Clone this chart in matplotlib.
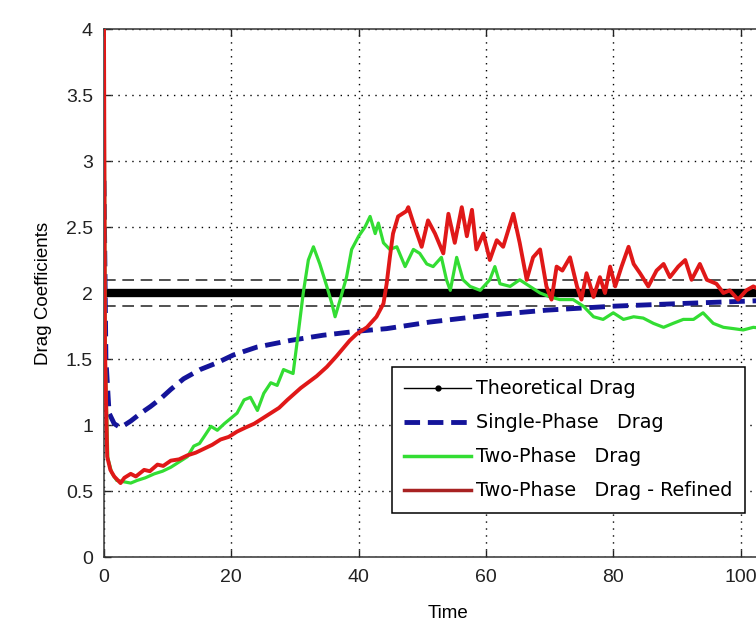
import matplotlib
matplotlib.use("Agg")
import matplotlib.pyplot as plt
from matplotlib.lines import Line2D

plt.rcParams['font.family'] = ['Liberation Sans', 'DejaVu Sans']

# ---- data ----
theory_t = [0, 108]
theory_v = [2.0, 2.0]
band_upper = [2.1, 2.1]
band_lower = [1.9, 1.9]

blue_t = [0, 0.3, 0.8, 1.6, 2.6, 4.2, 5.8, 7.3, 8.9, 10.5, 12.5, 15.1, 17.7, 20.3,
          24.0, 29.2, 34.4, 39.7, 44.4, 51.2, 60.1, 69.5, 80.0, 90.5, 102.0, 108]
blue_v = [2.85, 1.5, 1.09, 1.01, 0.98, 1.03, 1.09, 1.14, 1.20, 1.27, 1.35, 1.42, 1.47, 1.53,
          1.59, 1.64, 1.68, 1.71, 1.73, 1.78, 1.83, 1.87, 1.90, 1.92, 1.94, 1.95]

green_t = [0, 0.2, 0.6, 1.2, 2.0, 3.1, 4.2, 5.2, 6.5, 7.9, 9.2, 10.5, 11.8, 13.1, 14.1, 15.0,
           15.7, 16.8, 17.8, 18.9, 19.9, 20.9, 22.0, 23.0, 24.1, 25.1, 26.2, 27.2, 28.2, 29.7,
           30.5, 31.3, 32.1, 32.9, 33.9, 35.0, 35.8, 36.3, 37.1, 38.1, 38.9, 40.0, 41.0, 41.8,
           42.6, 43.1, 43.9, 44.9, 46.0, 47.3, 48.6, 49.6, 50.7, 51.7, 53.0, 53.8, 54.4, 55.4,
           56.4, 57.5, 59.1, 60.6, 61.4, 62.2, 63.8, 65.3, 66.9, 68.5, 70.1, 71.6, 73.7, 75.3,
           76.9, 78.4, 80.0, 81.6, 83.2, 84.7, 86.3, 87.9, 89.4, 91.0, 92.6, 94.1, 95.7, 97.3,
           98.9, 100.4, 102.0, 104]
green_v = [4.0, 1.5, 0.75, 0.64, 0.58, 0.57, 0.56, 0.58, 0.60, 0.63, 0.65, 0.68, 0.72, 0.76,
           0.84, 0.86, 0.91, 0.99, 0.96, 1.01, 1.05, 1.09, 1.19, 1.21, 1.11, 1.24, 1.32, 1.30,
           1.42, 1.39, 1.69, 2.00, 2.25, 2.35, 2.22, 2.05, 1.92, 1.82, 1.95, 2.12, 2.33, 2.43,
           2.50, 2.58, 2.45, 2.53, 2.38, 2.33, 2.35, 2.20, 2.33, 2.30, 2.22, 2.20, 2.27, 2.10,
           2.02, 2.27, 2.10, 2.05, 2.02, 2.10, 2.20, 2.07, 2.05, 2.10, 2.05, 2.00, 1.97, 1.95,
           1.95, 1.90, 1.82, 1.80, 1.85, 1.80, 1.82, 1.81, 1.77, 1.74, 1.77, 1.80, 1.80, 1.85,
           1.77, 1.74, 1.73, 1.72, 1.74, 1.73]

red_t = [0, 0.15, 0.5, 1.0, 1.6, 2.6, 3.2, 4.2, 5.0, 6.3, 7.2, 8.4, 9.3, 10.5, 11.8, 13.1,
         14.4, 15.7, 17.0, 18.3, 19.6, 20.9, 22.2, 23.6, 24.9, 26.2, 27.5, 28.8, 30.9, 33.4,
         35.0, 36.5, 38.6, 39.7, 41.3, 42.8, 43.9, 44.4, 44.9, 45.4, 46.2, 47.5, 47.8, 48.6,
         49.9, 50.9, 52.0, 53.3, 54.1, 55.1, 56.2, 57.0, 57.8, 58.5, 59.6, 60.6, 61.7, 62.7,
         64.3, 65.3, 66.4, 67.4, 68.5, 69.5, 70.3, 71.1, 72.0, 73.2, 74.3, 75.0, 75.8, 76.9,
         77.9, 78.7, 79.5, 80.3, 81.3, 82.4, 83.2, 84.2, 85.5, 86.8, 87.9, 88.9, 90.2, 91.3,
         92.3, 93.6, 94.7, 96.2, 97.3, 98.3, 99.6, 100.9, 102.0, 104]
red_v = [4.0, 1.6, 0.76, 0.66, 0.61, 0.56, 0.60, 0.63, 0.61, 0.66, 0.65, 0.70, 0.69, 0.73,
         0.74, 0.77, 0.79, 0.82, 0.85, 0.89, 0.91, 0.95, 0.98, 1.01, 1.05, 1.09, 1.13, 1.19,
         1.28, 1.37, 1.44, 1.52, 1.64, 1.69, 1.74, 1.82, 1.92, 2.07, 2.27, 2.45, 2.58, 2.62,
         2.65, 2.53, 2.35, 2.55, 2.45, 2.30, 2.60, 2.38, 2.65, 2.43, 2.63, 2.33, 2.45, 2.25,
         2.40, 2.35, 2.60, 2.38, 2.10, 2.27, 2.33, 2.05, 1.95, 2.20, 2.17, 2.27, 2.05, 1.95,
         2.15, 1.97, 2.12, 2.00, 2.20, 2.05, 2.20, 2.35, 2.22, 2.15, 2.05, 2.17, 2.22, 2.12,
         2.20, 2.25, 2.10, 2.22, 2.10, 2.07, 2.00, 2.02, 1.95, 2.02, 2.05, 2.0]

x_ticks = [0, 20, 40, 60, 80, 100]
y_ticks = [0, 0.5, 1, 1.5, 2, 2.5, 3, 3.5, 4]
y_tick_labels = ['0', '0.5', '1', '1.5', '2', '2.5', '3', '3.5', '4']

labels = ['Theoretical Drag', 'Single-Phase   Drag', 'Two-Phase   Drag',
          'Two-Phase   Drag - Refined']

c_blue = '#14149a'
c_green = '#33dd33'
c_red = '#e01818'

# ---- figure ----
fig = plt.figure(figsize=(7.56, 6.3), dpi=100)
xmax = 108
ax = fig.add_axes([104 / 756, 73 / 630, xmax * 6.366 / 756, 528 / 630])

ax.plot(theory_t, theory_v, color='black', lw=6, solid_capstyle='butt', zorder=2)
ax.plot(theory_t, band_upper, color='#333333', lw=1.2, dashes=(7, 4), zorder=2)
ax.plot(theory_t, band_lower, color='#333333', lw=1.2, dashes=(7, 4), zorder=2)
ax.plot(blue_t, blue_v, color=c_blue, lw=3.5, dashes=(3.2, 1.6), zorder=3)
ax.plot(green_t, green_v, color=c_green, lw=2.3, zorder=4)
ax.plot(red_t, red_v, color=c_red, lw=2.8, zorder=5)

ax.set_xlim(0, xmax)
ax.set_ylim(0, 4)
ax.set_xticks(x_ticks)
ax.set_yticks(y_ticks)
ax.set_yticklabels(y_tick_labels)
ax.tick_params(direction='in', length=5, width=1, top=True, right=True,
               labelsize=14, colors='#222222')
ax.tick_params(axis='y', pad=8)
ax.tick_params(axis='x', pad=9)
ax.grid(True, color='black', linestyle=(0, (1, 4)), lw=1)
for s in ax.spines.values():
    s.set_linewidth(1.1)
    s.set_color('#333333')

ax.set_xlabel('Time', fontsize=13.5, labelpad=13)
ax.set_ylabel('Drag Coefficients', fontsize=13.5, labelpad=10)

handles = [
    Line2D([], [], color='black', lw=1, marker='.', markersize=7),
    Line2D([], [], color=c_blue, lw=3.5, dashes=(3.2, 1.6)),
    Line2D([], [], color=c_green, lw=2.5),
    Line2D([], [], color='#a82222', lw=2.5),
]
leg = ax.legend(handles, labels, loc='upper left',
                bbox_to_anchor=(392 / 756, 1 - 367 / 630), bbox_transform=fig.transFigure,
                borderaxespad=0, handlelength=3.45, handletextpad=0.28,
                labelspacing=0.78, borderpad=0.65, fancybox=False, framealpha=1,
                edgecolor='black', numpoints=1,
                prop={'family': 'DejaVu Sans', 'size': 13.8})
leg.get_frame().set_linewidth(1.1)
leg.set_zorder(10)

fig.savefig('out.png', dpi=100)
